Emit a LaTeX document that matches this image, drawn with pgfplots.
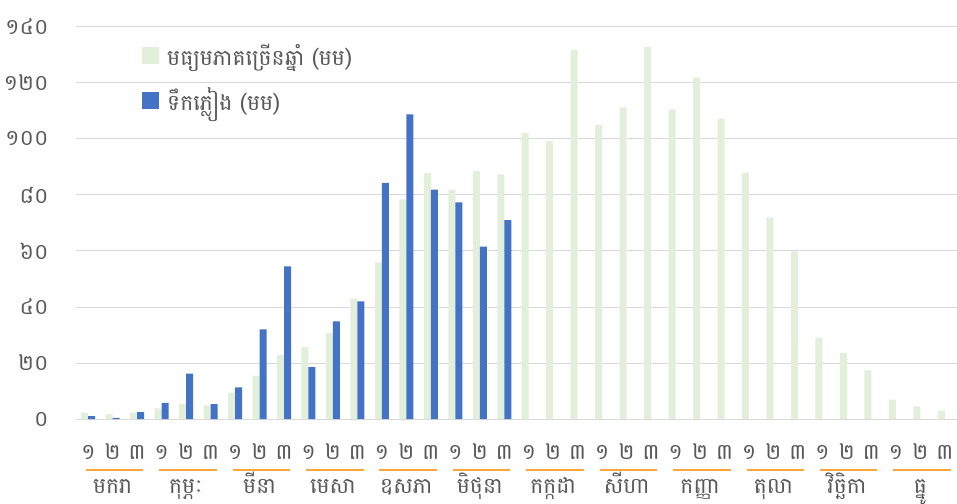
\documentclass[border=0pt]{standalone}
\usepackage{pgfplots}
\pgfplotsset{compat=1.18}
\usepackage{fontspec}
\newfontfamily\khmerfont[Script=Khmer]{Battambang}
\definecolor{avg}{HTML}{E2EFDA}
\definecolor{rain}{HTML}{4472C4}
\definecolor{txt}{HTML}{595959}
\definecolor{grd}{HTML}{D9D9D9}
\definecolor{orng}{HTML}{FFA53A}
\newcommand{\kfont}{\khmerfont\fontsize{22}{24}\selectfont}
\begin{document}
\begin{tikzpicture}
\begin{axis}[
  scale only axis, width=881bp, height=392bp,
  xmin=-0.5, xmax=35.5, ymin=0, ymax=140,
  enlargelimits=false,
  ybar=0pt, bar width=7bp,
  ytick={0,20,40,60,80,100,120,140},
  yticklabels={០,២០,៤០,៦០,៨០,១០០,១២០,១៤០},
  xtick={0,...,35},
  xticklabels={១,២,៣,១,២,៣,១,២,៣,១,២,៣,១,២,៣,១,២,៣,១,២,៣,១,២,៣,១,២,៣,១,២,៣,១,២,៣,១,២,៣},
  ymajorgrids, grid style={grd, line width=1bp},
  axis line style={draw=none}, major tick length=0pt,
  tick label style={font=\kfont, text=txt},
  yticklabel style={anchor=east, xshift=-24bp},
  xticklabel style={anchor=center, yshift=-33bp},
  clip=false,
  legend cell align=left,
  legend image code/.code={\fill[#1] (0bp,-8.5bp) rectangle (17bp,8.5bp);},
  legend style={draw=none, fill=none, at={(rel axis cs:0.0749,0.96)}, anchor=north west,
    inner sep=0pt, row sep=19bp, font=\kfont, text=txt,
    nodes={inner sep=1bp},
    /tikz/every odd column/.append style={column sep=7bp}},
]
\addplot[fill=avg, draw=none] coordinates {
(0,2.3) (1,1.7) (2,2.4) (3,3.8) (4,5.4) (5,4.9) (6,9.4) (7,15.5) (8,22.8)
(9,25.7) (10,30.7) (11,43.0) (12,55.9) (13,78.4) (14,87.8) (15,81.9) (16,88.5) (17,87.4)
(18,102.2) (19,99.2) (20,131.7) (21,105.0) (22,111.3) (23,132.8) (24,110.6) (25,121.9) (26,107.3)
(27,88.0) (28,72.0) (29,59.9) (30,29.1) (31,23.6) (32,17.4) (33,6.9) (34,4.5) (35,3.0)};
\addlegendentry{មធ្យមភាគច្រើនឆ្នាំ (មម)}
\addplot[fill=rain, draw=none] coordinates {
(0,1.0) (1,0.4) (2,2.5) (3,5.8) (4,16.2) (5,5.3) (6,11.3) (7,32.0) (8,54.5)
(9,18.5) (10,34.9) (11,42.0) (12,84.3) (13,108.8) (14,81.9) (15,77.4) (16,61.6) (17,71.0)};
\addlegendentry{ទឹកភ្លៀង (មម)}
\coordinate (SW) at (rel axis cs:0,0);
\coordinate (NE) at (rel axis cs:1,1);
\tikzset{ml/.style={font=\kfont, text=txt, anchor=base, yshift=-74bp},
         ul/.style={draw=orng, line width=2bp}}
\node[ml] at (axis cs:1,0) {មករា};
\node[ml] at (axis cs:4,0) {កុម្ភៈ};
\node[ml] at (axis cs:7,0) {មីនា};
\node[ml] at (axis cs:10,0) {មេសា};
\node[ml] at (axis cs:13,0) {ឧសភា};
\node[ml] at (axis cs:16,0) {មិថុនា};
\node[ml] at (axis cs:19,0) {កក្កដា};
\node[ml] at (axis cs:22,0) {សីហា};
\node[ml] at (axis cs:25,0) {កញ្ញា};
\node[ml] at (axis cs:28,0) {តុលា};
\node[ml] at (axis cs:31,0) {វិច្ឆិកា};
\node[ml] at (axis cs:34,0) {ធ្នូ};
\draw[ul] ([yshift=-51bp]axis cs:-0.1,0) -- ([yshift=-51bp]axis cs:2.25,0);
\draw[ul] ([yshift=-51bp]axis cs:2.9,0) -- ([yshift=-51bp]axis cs:5.25,0);
\draw[ul] ([yshift=-51bp]axis cs:5.9,0) -- ([yshift=-51bp]axis cs:8.25,0);
\draw[ul] ([yshift=-51bp]axis cs:8.9,0) -- ([yshift=-51bp]axis cs:11.25,0);
\draw[ul] ([yshift=-51bp]axis cs:11.9,0) -- ([yshift=-51bp]axis cs:14.25,0);
\draw[ul] ([yshift=-51bp]axis cs:14.9,0) -- ([yshift=-51bp]axis cs:17.25,0);
\draw[ul] ([yshift=-51bp]axis cs:17.9,0) -- ([yshift=-51bp]axis cs:20.25,0);
\draw[ul] ([yshift=-51bp]axis cs:20.9,0) -- ([yshift=-51bp]axis cs:23.25,0);
\draw[ul] ([yshift=-51bp]axis cs:23.9,0) -- ([yshift=-51bp]axis cs:26.25,0);
\draw[ul] ([yshift=-51bp]axis cs:26.9,0) -- ([yshift=-51bp]axis cs:29.25,0);
\draw[ul] ([yshift=-51bp]axis cs:29.9,0) -- ([yshift=-51bp]axis cs:32.25,0);
\draw[ul] ([yshift=-51bp]axis cs:32.9,0) -- ([yshift=-51bp]axis cs:35.25,0);
\end{axis}
\pgfresetboundingbox
\path[use as bounding box] ([xshift=-76bp,yshift=-85bp]SW) rectangle ([yshift=27bp]NE);
\end{tikzpicture}
\end{document}
